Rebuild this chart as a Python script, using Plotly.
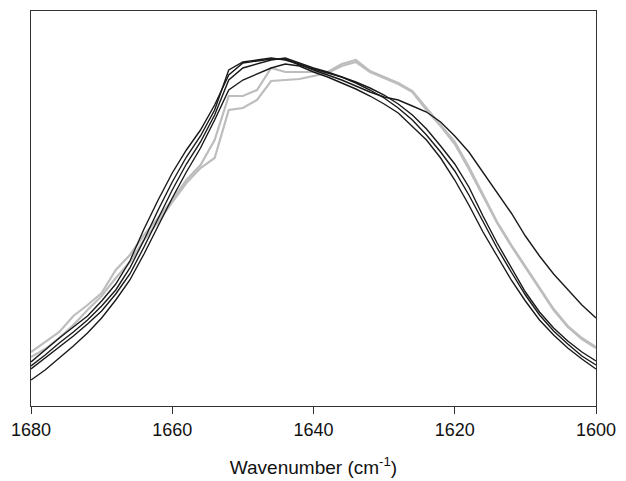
import plotly.graph_objects as go

# wavenumber grid (cm-1), 1680 -> 1600 every 2
wavenumber = [1680, 1678, 1676, 1674, 1672, 1670, 1668, 1666, 1664, 1662,
              1660, 1658, 1656, 1654, 1652, 1650, 1648, 1646, 1644, 1642,
              1640, 1638, 1636, 1634, 1632, 1630, 1628, 1626, 1624, 1622,
              1620, 1618, 1616, 1614, 1612, 1610, 1608, 1606, 1604, 1602, 1600]

# absorbance (arbitrary units, x1000)
black_a = [40, 51, 63, 74, 86, 100, 116, 138, 166, 196, 224, 249, 270, 296, 336, 344, 346, 348, 346, 342,
           336, 331, 326, 320, 314, 309, 306, 300, 294, 284, 270, 254, 234, 214, 193, 170, 150, 132, 116, 101, 88]
black_b = [44, 56, 68, 79, 90, 105, 122, 145, 177, 206, 233, 256, 276, 301, 331, 343, 345, 347, 347, 341,
           337, 333, 329, 324, 318, 311, 302, 291, 277, 260, 242, 219, 190, 163, 138, 114, 94, 78, 65, 54, 45]
black_c = [37, 48, 59, 70, 82, 95, 112, 132, 159, 188, 216, 242, 264, 291, 326, 338, 342, 346, 348, 343,
           338, 334, 329, 323, 316, 308, 298, 286, 271, 254, 235, 211, 184, 158, 134, 111, 91, 75, 62, 50, 41]
black_d = [26, 36, 48, 60, 73, 88, 106, 126, 152, 180, 208, 234, 258, 286, 316, 326, 332, 338, 342, 340,
           334, 329, 323, 317, 310, 302, 293, 280, 266, 248, 226, 201, 174, 150, 126, 105, 86, 71, 58, 47, 37]
gray_1 = [54, 64, 74, 90, 101, 113, 136, 151, 171, 188, 206, 226, 241, 266, 310, 310, 316, 338, 334, 334,
          334, 334, 342, 346, 335, 329, 323, 315, 298, 282, 264, 239, 212, 184, 161, 140, 118, 97, 80, 68, 59]
gray_2 = [49, 57, 68, 81, 96, 110, 128, 144, 166, 184, 204, 223, 238, 248, 296, 298, 306, 325, 326, 327,
          330, 333, 340, 344, 334, 328, 322, 314, 296, 280, 262, 237, 210, 183, 160, 139, 117, 96, 79, 67, 58]

fig = go.Figure()

for ys in [gray_1, gray_2]:
    fig.add_trace(go.Scatter(x=wavenumber, y=[v / 1000 for v in ys], mode='lines',
                             line=dict(color='#bdbdbd', width=2.2), showlegend=False))
for ys in [black_a, black_b, black_c, black_d]:
    fig.add_trace(go.Scatter(x=wavenumber, y=[v / 1000 for v in ys], mode='lines',
                             line=dict(color='#1a1a1a', width=1.4), showlegend=False))

# page body has an 8px margin, so the figure is a bit smaller than the window
fig.update_layout(
    width=618, height=473,
    margin=dict(l=23, r=30, t=3, b=75),
    paper_bgcolor='white', plot_bgcolor='white',
    font=dict(family='Arial, Liberation Sans, sans-serif', color='#111111'),
    xaxis=dict(
        range=[1680, 1600], tickvals=[1680, 1660, 1640, 1620, 1600],
        ticks='outside', ticklen=7, tickcolor='#333333', tickwidth=1,
        showline=True, linecolor='#333333', linewidth=1.2, mirror=True,
        showgrid=False, zeroline=False, tickfont=dict(size=18), automargin=False,
        title=dict(text='Wavenumber (cm<sup>-1</sup>)', font=dict(size=19), standoff=21),
    ),
    yaxis=dict(
        range=[0, 0.395], showticklabels=False, ticks='', automargin=False,
        showline=True, linecolor='#333333', linewidth=1.2, mirror=True,
        showgrid=False, zeroline=False,
    ),
)

fig.write_html("out.html")
